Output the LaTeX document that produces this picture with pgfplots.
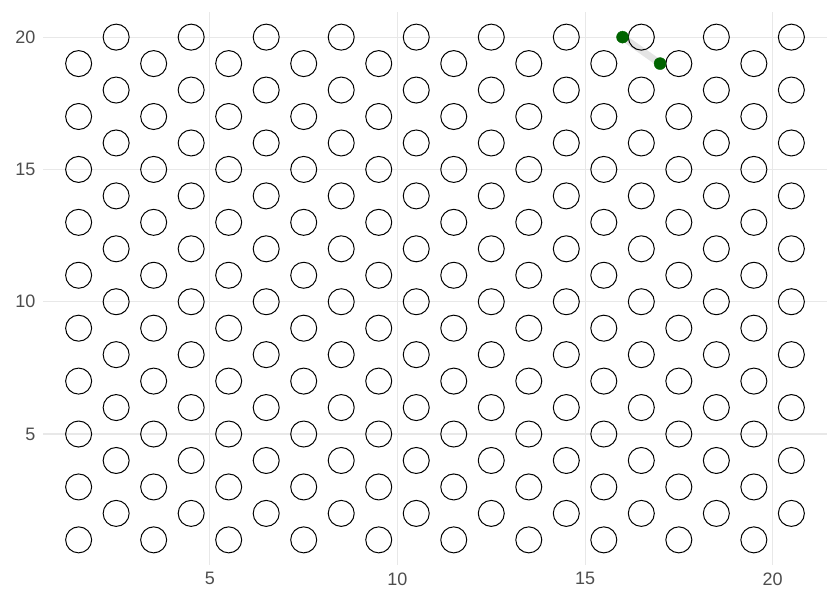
\documentclass[border=0pt]{standalone}
\usepackage{pgfplots}
\pgfplotsset{compat=1.18}
\usepackage{fontspec}
\setmainfont{Liberation Sans}
\definecolor{gridc}{RGB}{232,232,232}
\definecolor{tickc}{RGB}{77,77,77}
\definecolor{dgreen}{RGB}{0,100,0}
\begin{document}
\begin{tikzpicture}
\begin{axis}[
 scale only axis, width=784bp, height=553bp,
 xmin=0.55, xmax=21.45, ymin=0.05, ymax=20.95,
 axis line style={draw=none}, tick style={draw=none},
 xtick={5,10,15,20}, ytick={5,10,15,20},
 grid=major, major grid style={gridc, line width=1.1bp},
 ticklabel style={font=\fontsize{18bp}{20bp}\selectfont, text=tickc},
 /pgf/number format/assume math mode=true,
 xticklabel style={yshift=-4bp},
 yticklabel style={xshift=-4bp},
 clip=false,
]
\addplot[only marks, mark=o, mark size=13bp, mark options={line width=1bp, black}] coordinates {
(1.5,1)(1.5,3)(1.5,5)(1.5,7)(1.5,9)(1.5,11)(1.5,13)(1.5,15)(1.5,17)(1.5,19)
(3.5,1)(3.5,3)(3.5,5)(3.5,7)(3.5,9)(3.5,11)(3.5,13)(3.5,15)(3.5,17)(3.5,19)
(5.5,1)(5.5,3)(5.5,5)(5.5,7)(5.5,9)(5.5,11)(5.5,13)(5.5,15)(5.5,17)(5.5,19)
(7.5,1)(7.5,3)(7.5,5)(7.5,7)(7.5,9)(7.5,11)(7.5,13)(7.5,15)(7.5,17)(7.5,19)
(9.5,1)(9.5,3)(9.5,5)(9.5,7)(9.5,9)(9.5,11)(9.5,13)(9.5,15)(9.5,17)(9.5,19)
(11.5,1)(11.5,3)(11.5,5)(11.5,7)(11.5,9)(11.5,11)(11.5,13)(11.5,15)(11.5,17)(11.5,19)
(13.5,1)(13.5,3)(13.5,5)(13.5,7)(13.5,9)(13.5,11)(13.5,13)(13.5,15)(13.5,17)(13.5,19)
(15.5,1)(15.5,3)(15.5,5)(15.5,7)(15.5,9)(15.5,11)(15.5,13)(15.5,15)(15.5,17)(15.5,19)
(17.5,1)(17.5,3)(17.5,5)(17.5,7)(17.5,9)(17.5,11)(17.5,13)(17.5,15)(17.5,17)(17.5,19)
(19.5,1)(19.5,3)(19.5,5)(19.5,7)(19.5,9)(19.5,11)(19.5,13)(19.5,15)(19.5,17)(19.5,19)
(2.5,2)(2.5,4)(2.5,6)(2.5,8)(2.5,10)(2.5,12)(2.5,14)(2.5,16)(2.5,18)(2.5,20)
(4.5,2)(4.5,4)(4.5,6)(4.5,8)(4.5,10)(4.5,12)(4.5,14)(4.5,16)(4.5,18)(4.5,20)
(6.5,2)(6.5,4)(6.5,6)(6.5,8)(6.5,10)(6.5,12)(6.5,14)(6.5,16)(6.5,18)(6.5,20)
(8.5,2)(8.5,4)(8.5,6)(8.5,8)(8.5,10)(8.5,12)(8.5,14)(8.5,16)(8.5,18)(8.5,20)
(10.5,2)(10.5,4)(10.5,6)(10.5,8)(10.5,10)(10.5,12)(10.5,14)(10.5,16)(10.5,18)(10.5,20)
(12.5,2)(12.5,4)(12.5,6)(12.5,8)(12.5,10)(12.5,12)(12.5,14)(12.5,16)(12.5,18)(12.5,20)
(14.5,2)(14.5,4)(14.5,6)(14.5,8)(14.5,10)(14.5,12)(14.5,14)(14.5,16)(14.5,18)(14.5,20)
(16.5,2)(16.5,4)(16.5,6)(16.5,8)(16.5,10)(16.5,12)(16.5,14)(16.5,16)(16.5,18)(16.5,20)
(18.5,2)(18.5,4)(18.5,6)(18.5,8)(18.5,10)(18.5,12)(18.5,14)(18.5,16)(18.5,18)(18.5,20)
(20.5,2)(20.5,4)(20.5,6)(20.5,8)(20.5,10)(20.5,12)(20.5,14)(20.5,16)(20.5,18)(20.5,20)
};
\addplot[gray!30, opacity=0.7, line width=7bp, line cap=round] coordinates {(16,20)(17,19)};
\addplot[only marks, mark=*, mark size=6bp, mark options={draw=dgreen, fill=dgreen}] coordinates {(16,20)(17,19)};
\end{axis}
\pgfresetboundingbox
\path[use as bounding box] ([xshift=-43bp,yshift=-35bp]current axis.south west) rectangle ([xshift=13bp,yshift=12bp]current axis.north east);
\end{tikzpicture}
\end{document}
